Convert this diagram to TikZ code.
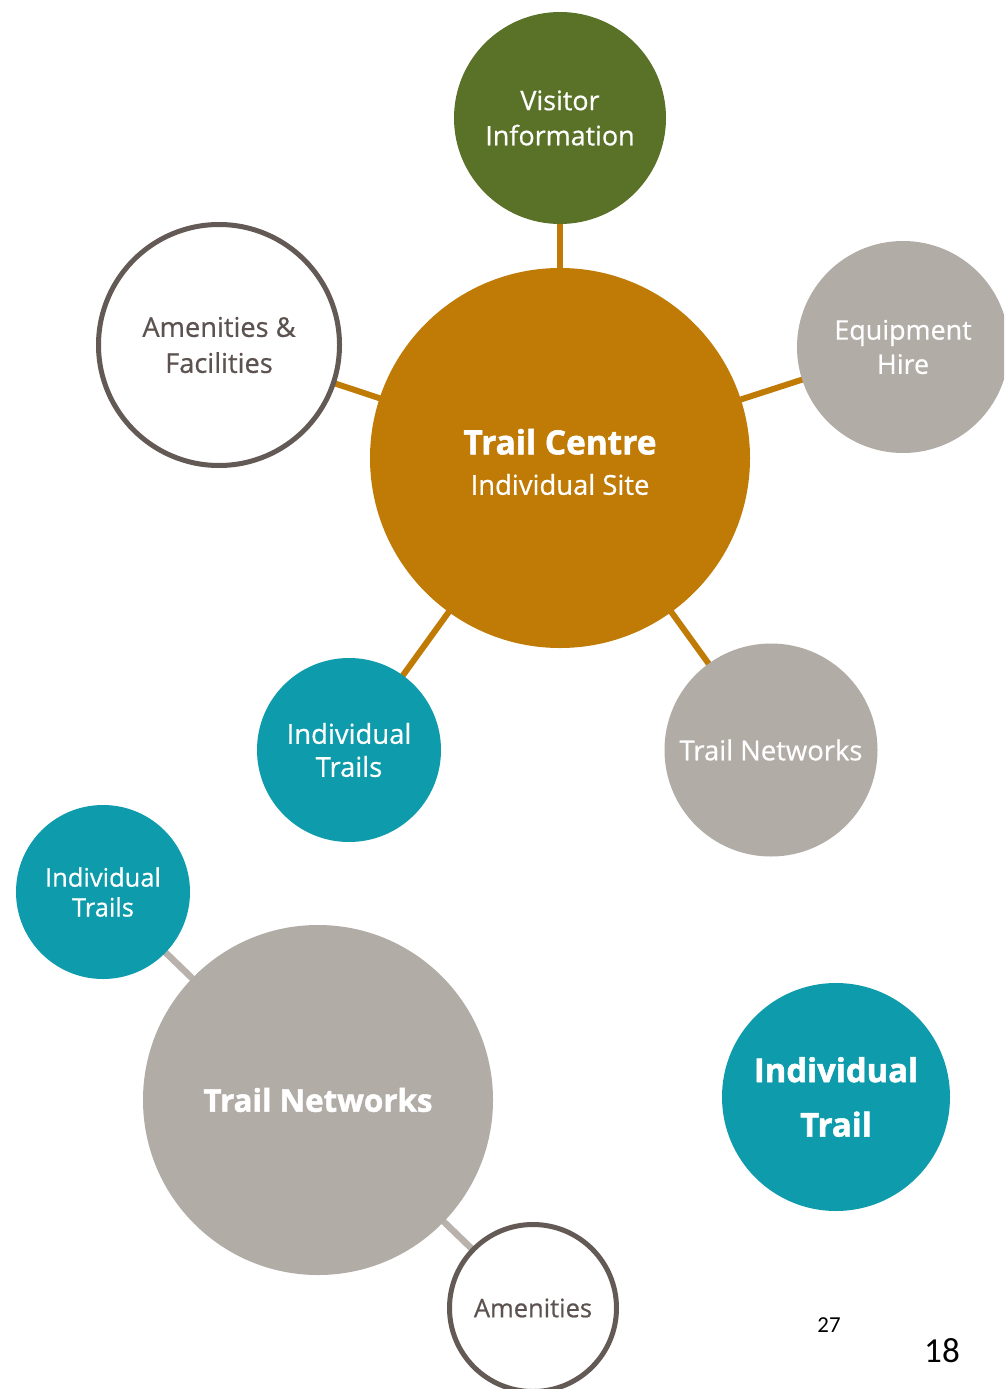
\documentclass[tikz,border=0pt]{standalone}
\usepackage{fontspec}
\setmainfont{Open Sans}[FakeBold=0.6]
\newfontfamily\heavyfont{Open Sans}[BoldFeatures={FakeBold=1.6}]
\newfontfamily\calfont{Carlito}
\usetikzlibrary{backgrounds}
\definecolor{visgreen}{HTML}{5A7128}
\definecolor{ctrorange}{HTML}{C07A06}
\definecolor{trlteal}{HTML}{0E9BAB}
\definecolor{netgrey}{HTML}{B2ACA7}
\definecolor{rimgrey}{HTML}{645A55}
\definecolor{txtgrey}{HTML}{5C5350}
\definecolor{lnkgrey}{HTML}{B8B1AC}

\begin{document}
\begin{tikzpicture}[x=0.2mm,y=-0.2mm,
      bub/.style={circle,inner sep=0pt,align=center,text=white},
      ring/.style={circle,draw=rimgrey,line width=1mm,fill=white,
                   inner sep=0pt,align=center,text=txtgrey},
      lnk/.style={ctrorange,line width=1.2mm},
      lnkg/.style={lnkgrey,line width=1.3mm}]

    \useasboundingbox (0,0) rectangle (1004,1389);
    \clip (0,0) rectangle (1004,1389);
    \begin{scope}[on background layer]
      \fill[white] (0,0) rectangle (1004,1389);
    \end{scope}

    % ================= trail centre cluster =================
    \node[bub,fill=ctrorange,minimum size=7.6cm] (ctr) at (560,458) {};
    \node[text=white,align=center,font=\fontsize{15.6}{23}\selectfont]
      (ctrtxt) at (560,462)
      {{\heavyfont\bfseries\fontsize{19}{23}\selectfont Trail Centre}\\
       Individual Site};

    \node[bub,fill=visgreen,minimum size=4.24cm,
          font=\fontsize{15.3}{20}\selectfont] (vis) at (560,118)
      {Visitor\\Information};
    \node[ring,minimum size=4.82cm,font=\fontsize{15.5}{20.5}\selectfont]
      (amen) at (219,345) {Amenities \&\\Facilities};
    \node[bub,fill=netgrey,minimum size=4.24cm,
          font=\fontsize{15.3}{19.5}\selectfont] (equip) at (903,347)
      {Equipment\\Hire};
    \node[bub,fill=trlteal,minimum size=3.68cm,
          font=\fontsize{15.6}{18.8}\selectfont] (itr) at (349,750)
      {Individual\\Trails};
    \node[bub,fill=netgrey,minimum size=4.26cm,
          font=\fontsize{15.6}{19}\selectfont] (tnet) at (771,750)
      {Trail Networks};

    \begin{scope}[on background layer]
      \draw[lnk] (ctr.center) -- (vis.center);
      \draw[lnk] (ctr.center) -- (amen.center);
      \draw[lnk] (ctr.center) -- (equip.center);
      \draw[lnk] (ctr.center) -- (itr.center);
      \draw[lnk] (ctr.center) -- (tnet.center);
    \end{scope}

    % ================= trail network cluster =================
    \node[bub,fill=netgrey,minimum size=7.0cm,
          font=\heavyfont\bfseries\fontsize{17.8}{21}\selectfont]
      (tnet2) at (318,1100) {Trail Networks};
    \node[bub,fill=trlteal,minimum size=3.48cm,
          font=\fontsize{14.5}{17}\selectfont] (itr2) at (103,892)
      {Individual\\Trails};
    \node[ring,minimum size=3.34cm,font=\fontsize{14.5}{17}\selectfont]
      (amen2) at (533,1308) {Amenities};

    \begin{scope}[on background layer]
      \draw[lnkg] (tnet2.center) -- (itr2.center);
      \draw[lnkg] (tnet2.center) -- (amen2.center);
    \end{scope}

    % ================= single trail =================
    \node[bub,fill=trlteal,minimum size=4.56cm,
          font=\heavyfont\bfseries\fontsize{18.7}{31}\selectfont]
      (itrail) at (836,1097) {Individual\\Trail};

    % page numbers
    \node[font=\calfont\fontsize{13}{15}\selectfont] (pg1) at (829,1325) {27};
    \node[font=\calfont\fontsize{20}{24}\selectfont] (pg2) at (942,1351) {18};
  \end{tikzpicture}
\end{document}
